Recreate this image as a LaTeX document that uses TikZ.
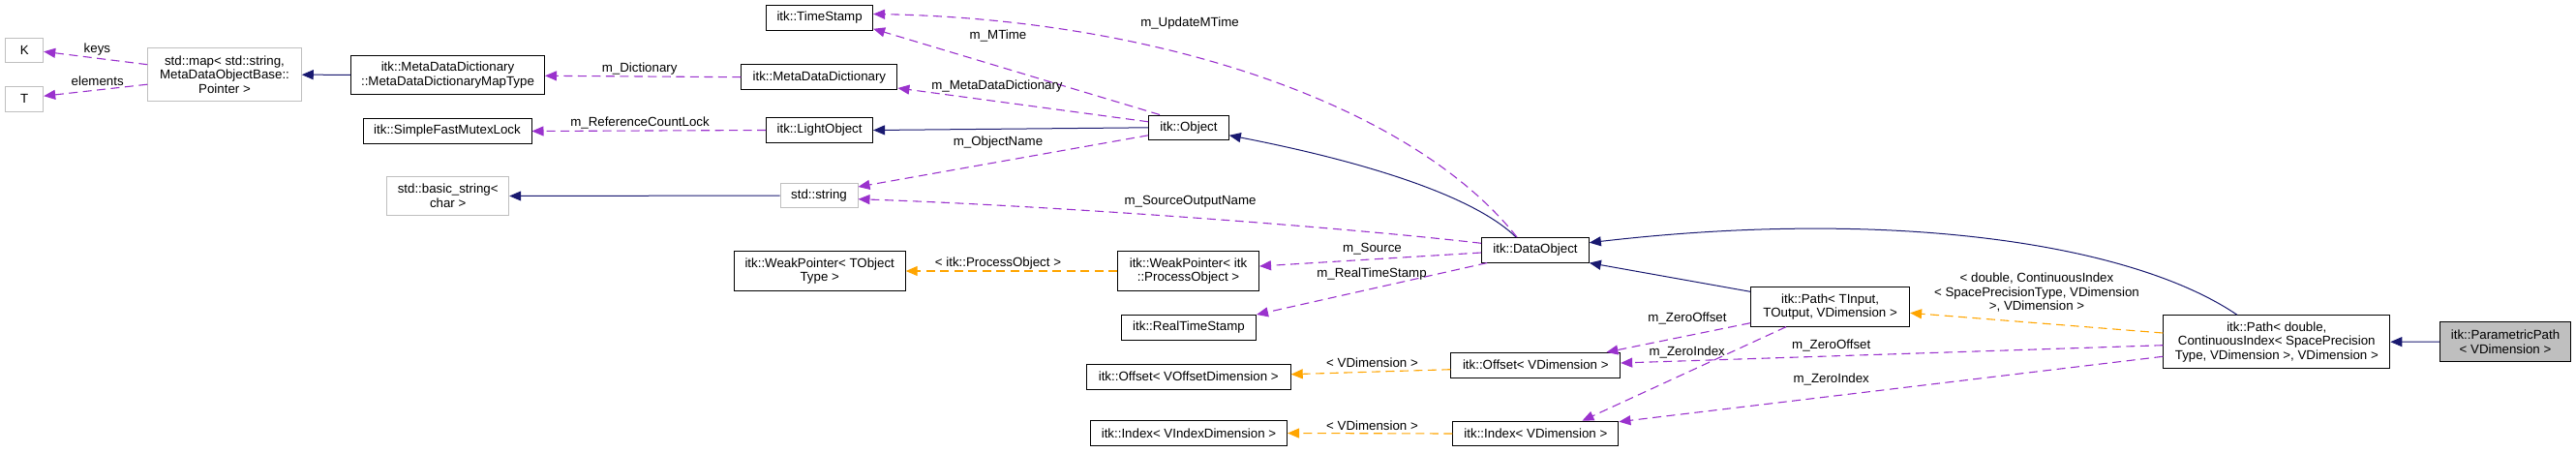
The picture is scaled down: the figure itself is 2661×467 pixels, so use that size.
\documentclass[tikz,border=0pt]{standalone}
\usepackage{fontspec}
\setmainfont{Liberation Sans}
\usetikzlibrary{arrows.meta}

\definecolor{edgeblue}{HTML}{191970}
\definecolor{edgepurple}{HTML}{9A32CD}
\definecolor{edgeorange}{HTML}{FFA500}
\definecolor{boxgray}{HTML}{BFBFBF}

\begin{document}
\begin{tikzpicture}[
  x=1pt, y=-1pt,
  font=\fontsize{13.3}{14.6}\selectfont,
  cls/.style={draw=black, fill=white, line width=1pt, inner sep=0pt, align=center},
  ext/.style={cls, draw=boxgray},
  cur/.style={cls, fill=boxgray},
  one/.style={minimum height=25.6},
  two/.style={minimum height=40.4},
  three/.style={minimum height=55},
  inhedge/.style={edgeblue, line width=1pt, -{Triangle[length=12pt,width=10pt]}},
  memedge/.style={edgepurple, line width=1.1pt, dash pattern=on 9pt off 5.5pt,
    -{Triangle[length=12pt,width=10pt]}},
  tpledge/.style={memedge, edgeorange},
  lbl/.style={inner sep=0pt, text=black},
]
  \useasboundingbox (0,0) rectangle (2661,467);

  % classes, column by column
  \node[ext, one, minimum width=39]    (k)      at (25.2,51.8)   {K};
  \node[ext, one, minimum width=39]    (t)      at (25.2,102.2)  {T};
  \node[ext, three, minimum width=158.5] (map)  at (232,77.2)
    {std::map< std::string,\\ MetaDataObjectBase::\\ Pointer >};
  \node[cls, two, minimum width=200]   (maptype) at (462.5,77.3)
    {itk::MetaDataDictionary\\ ::MetaDataDictionaryMapType};
  \node[cls, one, minimum width=174]   (mutex)  at (462,135.5)   {itk::SimpleFastMutexLock};
  \node[ext, two, minimum width=126]   (bstr)   at (462.7,202.5) {std::basic\_string<\\ char >};
  \node[cls, one, minimum width=110]   (tstamp) at (846.6,18.5)  {itk::TimeStamp};
  \node[cls, one, minimum width=161]   (mdd)    at (846.4,79.7)  {itk::MetaDataDictionary};
  \node[cls, one, minimum width=110]   (light)  at (846.6,134.5) {itk::LightObject};
  \node[ext, one, minimum width=80]    (str)    at (846,202)     {std::string};
  \node[cls, two, minimum width=177]   (wpt)    at (846.7,280)   {itk::WeakPointer< TObject\\ Type >};
  \node[cls, one, minimum width=82.6]  (obj)    at (1228,131.8)  {itk::Object};
  \node[cls, two, minimum width=146]   (wpi)    at (1227.5,280)  {itk::WeakPointer< itk\\ ::ProcessObject >};
  \node[cls, one, minimum width=139]   (rts)    at (1228,338.3)  {itk::RealTimeStamp};
  \node[cls, one, minimum width=211]   (offv)   at (1227.7,389.2) {itk::Offset< VOffsetDimension >};
  \node[cls, one, minimum width=203]   (idxv)   at (1228,447.5)  {itk::Index< VIndexDimension >};
  \node[cls, one, minimum width=110.7] (data)   at (1586,258.3)  {itk::DataObject};
  \node[cls, one, minimum width=174.7] (offd)   at (1586.3,377.2) {itk::Offset< VDimension >};
  \node[cls, one, minimum width=171]   (idxd)   at (1586.4,448)  {itk::Index< VDimension >};
  \node[cls, two, minimum width=164]   (pathio) at (1890.6,317)
    {itk::Path< TInput,\\ TOutput, VDimension >};
  \node[cls, three, minimum width=234] (pathd)  at (2351.8,353.2)
    {itk::Path< double,\\ ContinuousIndex< SpacePrecision\\ Type, VDimension >, VDimension >};
  \node[cur, two, minimum width=135]   (ppath)  at (2588,353)
    {itk::ParametricPath\\ < VDimension >};

  % inheritance
  \draw[inhedge] (maptype.west) -- (map.east);
  \draw[inhedge] (str.west) -- (bstr.east);
  \draw[inhedge] (obj.west) -- (light.east);
  \draw[inhedge] ([xshift=-20pt]data.north) .. controls (1520,200) and (1400,165) .. ([yshift=-8pt]obj.east);
  \draw[inhedge] ([yshift=-5pt]pathio.north west) -- (data.south east);
  \draw[inhedge] ([xshift=-41pt]pathd.north) .. controls (2200,250) and (1950,215) .. ([yshift=7.6pt]data.east);
  \draw[inhedge] (ppath.west) -- (pathd.east);

  % members
  \draw[memedge] ([yshift=10.5pt]map.west) -- ([yshift=-1.5pt]k.east);
  \draw[memedge] ([yshift=-10pt]map.west) -- ([yshift=3pt]t.east);
  \draw[memedge] (mdd.west) -- ([yshift=-1pt]maptype.east);
  \draw[memedge] (light.west) -- (mutex.east);
  \draw[memedge] ([xshift=-30pt]obj.north) -- ([yshift=2pt]tstamp.south east);
  \draw[memedge] ([xshift=-19pt]data.north) .. controls (1460,110) and (1200,20) .. ([yshift=4pt]tstamp.east);
  \draw[memedge] ([yshift=6pt]obj.west) -- ([yshift=2pt]mdd.south east);
  \draw[memedge] ([yshift=-8pt]obj.west) -- ([yshift=9pt]str.east);
  \draw[memedge] ([yshift=7pt]data.west) .. controls (1400,236) and (1100,213) .. ([yshift=-3.7pt]str.east);
  \draw[memedge] ([yshift=-2.7pt]data.west) -- ([yshift=5pt]wpi.east);
  \draw[memedge] ([xshift=6pt]data.south west) -- (rts.north east);
  \draw[memedge] ([yshift=4pt]pathio.south west) -- ([xshift=-14.7pt]offd.north east);
  \draw[memedge] ([xshift=-45.6pt]pathio.south) -- ([xshift=48pt]idxd.north);
  \draw[memedge] ([yshift=-3.5pt]pathd.west) -- ([yshift=2.2pt]offd.east);
  \draw[memedge] ([yshift=-15.1pt]pathd.west) -- ([yshift=12.3pt]idxd.east);

  % template instances
  \draw[tpledge] (wpi.west) -- (wpt.east);
  \draw[tpledge] ([yshift=-4.5pt]offd.west) -- ([yshift=2.5pt]offv.east);
  \draw[tpledge] (idxd.west) -- (idxv.east);
  \draw[tpledge] ([yshift=9.2pt]pathd.west) -- ([yshift=-6.3pt]pathio.east);

  % edge labels
  \node[lbl] (lkeys)  at (100.4,50.7)  {keys};
  \node[lbl] (lelem)  at (100.7,83.3)  {elements};
  \node[lbl] (ldict)  at (660.7,71)    {m\_Dictionary};
  \node[lbl] (llock)  at (661,127)     {m\_ReferenceCountLock};
  \node[lbl] (lupd)   at (1229,24)     {m\_UpdateMTime};
  \node[lbl] (lmtime) at (1031,36.7)   {m\_MTime};
  \node[lbl] (lmdd)   at (1030,89)     {m\_MetaDataDictionary};
  \node[lbl] (lname)  at (1031,147.3)  {m\_ObjectName};
  \node[lbl] (lsrcn)  at (1229.6,208.7) {m\_SourceOutputName};
  \node[lbl] (lproc)  at (1031,271.7)  {< itk::ProcessObject >};
  \node[lbl] (lsrc)   at (1417.5,256.7) {m\_Source};
  \node[lbl] (lrts)   at (1417,282.7)  {m\_RealTimeStamp};
  \node[lbl] (loffv)  at (1417.5,374.3) {< VDimension >};
  \node[lbl] (lidxv)  at (1417.5,440)  {< VDimension >};
  \node[lbl] (lzo1)   at (1743,329)    {m\_ZeroOffset};
  \node[lbl] (lzi1)   at (1742.7,364.3) {m\_ZeroIndex};
  \node[lbl] (lzo2)   at (1891.7,356.7) {m\_ZeroOffset};
  \node[lbl] (lzi2)   at (1891.7,391.7) {m\_ZeroIndex};
  \node[lbl, align=center] (lpath) at (2104,302.3)
    {< double, ContinuousIndex\\ < SpacePrecisionType, VDimension\\ >, VDimension >};
\end{tikzpicture}
\end{document}
